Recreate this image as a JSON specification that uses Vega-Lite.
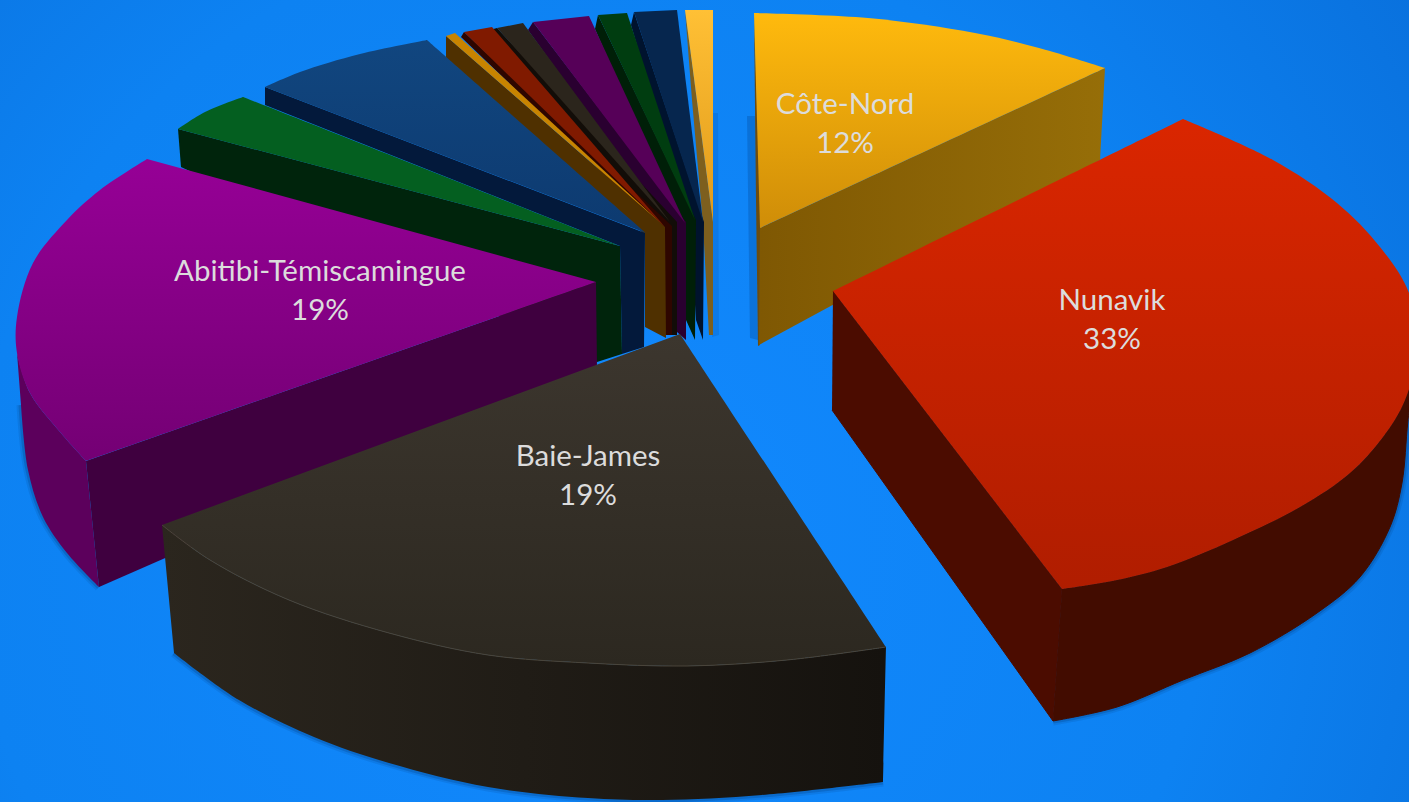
{
  "$schema": "https://vega.github.io/schema/vega-lite/v6.json",
  "width": 1409,
  "height": 802,
  "padding": 0,
  "autosize": {"type": "none"},
  "view": {"stroke": null, "fill": {"gradient": "radial", "x1": 0.42, "y1": 0.6, "r1": 0, "x2": 0.42, "y2": 0.6, "r2": 0.8, "stops": [{"offset": 0, "color": "#1289ff"}, {"offset": 0.55, "color": "#0d82f2"}, {"offset": 1, "color": "#086bd6"}]}},
  "datasets": {
    "labels": [
      {"slice": "Côte-Nord", "share": 0.12, "x": 845, "y": 105},
      {"slice": "Nunavik", "share": 0.33, "x": 1112, "y": 301},
      {"slice": "Baie-James", "share": 0.19, "x": 588, "y": 457},
      {"slice": "Abitibi-Témiscamingue", "share": 0.19, "x": 320, "y": 272}
    ],
    "outline": [
      {"face": "sliverShade", "seq": 1, "x": 712, "y": 113},
      {"face": "sliverShade", "seq": 2, "x": 718, "y": 113},
      {"face": "sliverShade", "seq": 3, "x": 719, "y": 335},
      {"face": "sliverShade", "seq": 4, "x": 712, "y": 337},
      {"face": "coteShade", "seq": 1, "x": 747, "y": 116},
      {"face": "coteShade", "seq": 2, "x": 756, "y": 116},
      {"face": "coteShade", "seq": 3, "x": 758, "y": 340},
      {"face": "coteShade", "seq": 4, "x": 750, "y": 338},
      {"face": "sliverWall", "seq": 1, "x": 685, "y": 10},
      {"face": "sliverWall", "seq": 2, "x": 713, "y": 222},
      {"face": "sliverWall", "seq": 3, "x": 713, "y": 335},
      {"face": "sliverWall", "seq": 4, "x": 709, "y": 335},
      {"face": "sliverWall", "seq": 5, "x": 703, "y": 225},
      {"face": "sliverWall", "seq": 6, "x": 692, "y": 100},
      {"face": "sliverTop", "seq": 1, "x": 685, "y": 10},
      {"face": "sliverTop", "seq": 2, "x": 713, "y": 10},
      {"face": "sliverTop", "seq": 3, "x": 713, "y": 222},
      {"face": "navyWall", "seq": 1, "x": 634, "y": 12},
      {"face": "navyWall", "seq": 2, "x": 631, "y": 25},
      {"face": "navyWall", "seq": 3, "x": 690, "y": 226},
      {"face": "navyWall", "seq": 4, "x": 696, "y": 320},
      {"face": "navyWall", "seq": 5, "x": 703, "y": 340},
      {"face": "navyWall", "seq": 6, "x": 704, "y": 222},
      {"face": "navyTop", "seq": 1, "x": 634, "y": 12},
      {"face": "navyTop", "seq": 2, "x": 677, "y": 10},
      {"face": "navyTop", "seq": 3, "x": 703, "y": 222},
      {"face": "forestWall", "seq": 1, "x": 598, "y": 15},
      {"face": "forestWall", "seq": 2, "x": 595, "y": 29},
      {"face": "forestWall", "seq": 3, "x": 680, "y": 226},
      {"face": "forestWall", "seq": 4, "x": 686, "y": 320},
      {"face": "forestWall", "seq": 5, "x": 695, "y": 340},
      {"face": "forestWall", "seq": 6, "x": 696, "y": 220},
      {"face": "forestTop", "seq": 1, "x": 598, "y": 15},
      {"face": "forestTop", "seq": 2, "x": 627, "y": 13},
      {"face": "forestTop", "seq": 3, "x": 695, "y": 220},
      {"face": "plumWall", "seq": 1, "x": 533, "y": 22},
      {"face": "plumWall", "seq": 2, "x": 528, "y": 30},
      {"face": "plumWall", "seq": 3, "x": 670, "y": 228},
      {"face": "plumWall", "seq": 4, "x": 677, "y": 332},
      {"face": "plumWall", "seq": 5, "x": 686, "y": 340},
      {"face": "plumWall", "seq": 6, "x": 686, "y": 222},
      {"face": "plumTop", "seq": 1, "x": 533, "y": 22},
      {"face": "plumTop", "seq": 2, "x": 589, "y": 16},
      {"face": "plumTop", "seq": 3, "x": 685, "y": 223},
      {"face": "coalWall", "seq": 1, "x": 497, "y": 28},
      {"face": "coalWall", "seq": 2, "x": 490, "y": 30},
      {"face": "coalWall", "seq": 3, "x": 664, "y": 232},
      {"face": "coalWall", "seq": 4, "x": 672, "y": 335},
      {"face": "coalWall", "seq": 5, "x": 677, "y": 335},
      {"face": "coalWall", "seq": 6, "x": 677, "y": 222},
      {"face": "coalTop", "seq": 1, "x": 497, "y": 28},
      {"face": "coalTop", "seq": 2, "x": 523, "y": 23},
      {"face": "coalTop", "seq": 3, "x": 670, "y": 222},
      {"face": "brickWall", "seq": 1, "x": 464, "y": 32},
      {"face": "brickWall", "seq": 2, "x": 461, "y": 37},
      {"face": "brickWall", "seq": 3, "x": 664, "y": 232},
      {"face": "brickWall", "seq": 4, "x": 664, "y": 335},
      {"face": "brickWall", "seq": 5, "x": 672, "y": 335},
      {"face": "brickWall", "seq": 6, "x": 672, "y": 226},
      {"face": "brickTop", "seq": 1, "x": 464, "y": 32},
      {"face": "brickTop", "seq": 2, "x": 492, "y": 27},
      {"face": "brickTop", "seq": 3, "x": 665, "y": 227},
      {"face": "amberWall", "seq": 1, "x": 446, "y": 36},
      {"face": "amberWall", "seq": 2, "x": 446, "y": 59},
      {"face": "amberWall", "seq": 3, "x": 645, "y": 235},
      {"face": "amberWall", "seq": 4, "x": 645, "y": 327},
      {"face": "amberWall", "seq": 5, "x": 666, "y": 338},
      {"face": "amberWall", "seq": 6, "x": 665, "y": 227},
      {"face": "amberTop", "seq": 1, "x": 446, "y": 36},
      {"face": "amberTop", "seq": 2, "x": 455, "y": 33},
      {"face": "amberTop", "seq": 3, "x": 664, "y": 226},
      {"face": "blueWall", "seq": 1, "x": 265, "y": 87},
      {"face": "blueWall", "seq": 2, "x": 265, "y": 105},
      {"face": "blueWall", "seq": 3, "x": 620, "y": 246},
      {"face": "blueWall", "seq": 4, "x": 622, "y": 354},
      {"face": "blueWall", "seq": 5, "x": 644, "y": 347},
      {"face": "blueWall", "seq": 6, "x": 645, "y": 233},
      {"face": "blueTop", "seq": 1, "x": 265, "y": 87},
      {"face": "blueTop", "seq": 2, "x": 300, "y": 72},
      {"face": "blueTop", "seq": 3, "x": 360, "y": 54},
      {"face": "blueTop", "seq": 4, "x": 427, "y": 40},
      {"face": "blueTop", "seq": 4.5, "x": 427, "y": 40},
      {"face": "blueTop", "seq": 5, "x": 646, "y": 233},
      {"face": "greenWall", "seq": 1, "x": 178, "y": 129},
      {"face": "greenWall", "seq": 2, "x": 181, "y": 167},
      {"face": "greenWall", "seq": 3, "x": 597, "y": 362},
      {"face": "greenWall", "seq": 4, "x": 622, "y": 354},
      {"face": "greenWall", "seq": 5, "x": 620, "y": 246},
      {"face": "greenTop", "seq": 1, "x": 178, "y": 129},
      {"face": "greenTop", "seq": 2, "x": 205, "y": 112},
      {"face": "greenTop", "seq": 3, "x": 243, "y": 97},
      {"face": "greenTop", "seq": 3.5, "x": 243, "y": 97},
      {"face": "greenTop", "seq": 4, "x": 620, "y": 246},
      {"face": "purpleRim", "seq": 1, "x": 17, "y": 353},
      {"face": "purpleRim", "seq": 2, "x": 30, "y": 393},
      {"face": "purpleRim", "seq": 3, "x": 60, "y": 432},
      {"face": "purpleRim", "seq": 4, "x": 86, "y": 461},
      {"face": "purpleRim", "seq": 4.5, "x": 86, "y": 461},
      {"face": "purpleRim", "seq": 5, "x": 99, "y": 587},
      {"face": "purpleRim", "seq": 5.5, "x": 99, "y": 587},
      {"face": "purpleRim", "seq": 6, "x": 67, "y": 553},
      {"face": "purpleRim", "seq": 7, "x": 43, "y": 517},
      {"face": "purpleRim", "seq": 8, "x": 28, "y": 470},
      {"face": "purpleRim", "seq": 9, "x": 21, "y": 405},
      {"face": "purpleWall", "seq": 1, "x": 86, "y": 461},
      {"face": "purpleWall", "seq": 2, "x": 596, "y": 282},
      {"face": "purpleWall", "seq": 3, "x": 597, "y": 369},
      {"face": "purpleWall", "seq": 4, "x": 99, "y": 587},
      {"face": "purpleTop", "seq": 1, "x": 147, "y": 159},
      {"face": "purpleTop", "seq": 2, "x": 100, "y": 190},
      {"face": "purpleTop", "seq": 3, "x": 67, "y": 220},
      {"face": "purpleTop", "seq": 4, "x": 33, "y": 263},
      {"face": "purpleTop", "seq": 5, "x": 17, "y": 317},
      {"face": "purpleTop", "seq": 6, "x": 17, "y": 353},
      {"face": "purpleTop", "seq": 7, "x": 30, "y": 393},
      {"face": "purpleTop", "seq": 8, "x": 60, "y": 432},
      {"face": "purpleTop", "seq": 9, "x": 86, "y": 461},
      {"face": "purpleTop", "seq": 9.5, "x": 86, "y": 461},
      {"face": "purpleTop", "seq": 10, "x": 596, "y": 282},
      {"face": "jamesRim", "seq": 1, "x": 162, "y": 525},
      {"face": "jamesRim", "seq": 2, "x": 210, "y": 560},
      {"face": "jamesRim", "seq": 3, "x": 289, "y": 600},
      {"face": "jamesRim", "seq": 4, "x": 389, "y": 633},
      {"face": "jamesRim", "seq": 5, "x": 488, "y": 655},
      {"face": "jamesRim", "seq": 6, "x": 588, "y": 663},
      {"face": "jamesRim", "seq": 7, "x": 687, "y": 666},
      {"face": "jamesRim", "seq": 8, "x": 787, "y": 660},
      {"face": "jamesRim", "seq": 9, "x": 886, "y": 647},
      {"face": "jamesRim", "seq": 9.5, "x": 886, "y": 647},
      {"face": "jamesRim", "seq": 10, "x": 883, "y": 782},
      {"face": "jamesRim", "seq": 10.5, "x": 883, "y": 782},
      {"face": "jamesRim", "seq": 11, "x": 762, "y": 795},
      {"face": "jamesRim", "seq": 12, "x": 662, "y": 800},
      {"face": "jamesRim", "seq": 13, "x": 588, "y": 798},
      {"face": "jamesRim", "seq": 14, "x": 488, "y": 787},
      {"face": "jamesRim", "seq": 15, "x": 389, "y": 763},
      {"face": "jamesRim", "seq": 16, "x": 314, "y": 737},
      {"face": "jamesRim", "seq": 17, "x": 239, "y": 700},
      {"face": "jamesRim", "seq": 18, "x": 174, "y": 653},
      {"face": "jamesTop", "seq": 1, "x": 680, "y": 334},
      {"face": "jamesTop", "seq": 2, "x": 886, "y": 647},
      {"face": "jamesTop", "seq": 2.5, "x": 886, "y": 647},
      {"face": "jamesTop", "seq": 3, "x": 787, "y": 660},
      {"face": "jamesTop", "seq": 4, "x": 687, "y": 666},
      {"face": "jamesTop", "seq": 5, "x": 588, "y": 663},
      {"face": "jamesTop", "seq": 6, "x": 488, "y": 655},
      {"face": "jamesTop", "seq": 7, "x": 389, "y": 633},
      {"face": "jamesTop", "seq": 8, "x": 289, "y": 600},
      {"face": "jamesTop", "seq": 9, "x": 210, "y": 560},
      {"face": "jamesTop", "seq": 10, "x": 162, "y": 525},
      {"face": "coteEdge", "seq": 1, "x": 754, "y": 13},
      {"face": "coteEdge", "seq": 2, "x": 761, "y": 228},
      {"face": "coteEdge", "seq": 3, "x": 760, "y": 345},
      {"face": "coteEdge", "seq": 4, "x": 758, "y": 346},
      {"face": "coteEdge", "seq": 5, "x": 756, "y": 200},
      {"face": "coteWall", "seq": 1, "x": 760, "y": 228},
      {"face": "coteWall", "seq": 2, "x": 1105, "y": 68},
      {"face": "coteWall", "seq": 3, "x": 1100, "y": 160},
      {"face": "coteWall", "seq": 4, "x": 759, "y": 345},
      {"face": "coteTop", "seq": 1, "x": 754, "y": 13},
      {"face": "coteTop", "seq": 2, "x": 868, "y": 18},
      {"face": "coteTop", "seq": 3, "x": 975, "y": 33},
      {"face": "coteTop", "seq": 4, "x": 1039, "y": 48},
      {"face": "coteTop", "seq": 5, "x": 1105, "y": 68},
      {"face": "coteTop", "seq": 5.5, "x": 1105, "y": 68},
      {"face": "coteTop", "seq": 6, "x": 760, "y": 228},
      {"face": "nunavikWall", "seq": 1, "x": 833, "y": 291},
      {"face": "nunavikWall", "seq": 2, "x": 1062, "y": 589},
      {"face": "nunavikWall", "seq": 3, "x": 1053, "y": 721},
      {"face": "nunavikWall", "seq": 4, "x": 832, "y": 410},
      {"face": "nunavikRim", "seq": 1, "x": 1062, "y": 589},
      {"face": "nunavikRim", "seq": 2, "x": 1117, "y": 580},
      {"face": "nunavikRim", "seq": 3, "x": 1167, "y": 567},
      {"face": "nunavikRim", "seq": 4, "x": 1233, "y": 540},
      {"face": "nunavikRim", "seq": 5, "x": 1300, "y": 507},
      {"face": "nunavikRim", "seq": 6, "x": 1350, "y": 473},
      {"face": "nunavikRim", "seq": 7, "x": 1383, "y": 437},
      {"face": "nunavikRim", "seq": 8, "x": 1405, "y": 400},
      {"face": "nunavikRim", "seq": 9, "x": 1417, "y": 350},
      {"face": "nunavikRim", "seq": 9.5, "x": 1417, "y": 350},
      {"face": "nunavikRim", "seq": 10, "x": 1408, "y": 420},
      {"face": "nunavikRim", "seq": 11, "x": 1402, "y": 483},
      {"face": "nunavikRim", "seq": 12, "x": 1390, "y": 527},
      {"face": "nunavikRim", "seq": 13, "x": 1360, "y": 577},
      {"face": "nunavikRim", "seq": 14, "x": 1317, "y": 613},
      {"face": "nunavikRim", "seq": 15, "x": 1250, "y": 653},
      {"face": "nunavikRim", "seq": 16, "x": 1183, "y": 680},
      {"face": "nunavikRim", "seq": 17, "x": 1117, "y": 707},
      {"face": "nunavikRim", "seq": 18, "x": 1053, "y": 721},
      {"face": "nunavikTop", "seq": 1, "x": 833, "y": 291},
      {"face": "nunavikTop", "seq": 2, "x": 1183, "y": 119},
      {"face": "nunavikTop", "seq": 2.5, "x": 1183, "y": 119},
      {"face": "nunavikTop", "seq": 3, "x": 1273, "y": 160},
      {"face": "nunavikTop", "seq": 4, "x": 1337, "y": 203},
      {"face": "nunavikTop", "seq": 5, "x": 1380, "y": 247},
      {"face": "nunavikTop", "seq": 6, "x": 1409, "y": 293},
      {"face": "nunavikTop", "seq": 7, "x": 1417, "y": 350},
      {"face": "nunavikTop", "seq": 8, "x": 1405, "y": 400},
      {"face": "nunavikTop", "seq": 9, "x": 1383, "y": 437},
      {"face": "nunavikTop", "seq": 10, "x": 1350, "y": 473},
      {"face": "nunavikTop", "seq": 11, "x": 1300, "y": 507},
      {"face": "nunavikTop", "seq": 12, "x": 1233, "y": 540},
      {"face": "nunavikTop", "seq": 13, "x": 1167, "y": 567},
      {"face": "nunavikTop", "seq": 14, "x": 1117, "y": 580},
      {"face": "nunavikTop", "seq": 15, "x": 1062, "y": 589}
    ]
  },
  "data": {"name": "outline"},
  "encoding": {
    "x": {"field": "x", "type": "quantitative", "scale": {"domain": [0, 1409], "nice": false, "zero": false}, "axis": null},
    "y": {"field": "y", "type": "quantitative", "scale": {"domain": [802, 0], "nice": false, "zero": false}, "axis": null},
    "order": {"field": "seq", "type": "quantitative"}
  },
  "layer": [
    {"transform": [{"filter": "datum.face === 'purpleRim' && datum.seq >= 5"}], "mark": {"type": "line", "interpolate": "catmull-rom", "stroke": "#00306e", "strokeWidth": 9, "opacity": 0.12}},
    {"transform": [{"filter": "datum.face === 'purpleRim' && datum.seq >= 5"}], "mark": {"type": "line", "interpolate": "catmull-rom", "stroke": "#00306e", "strokeWidth": 5, "opacity": 0.22}},
    {"transform": [{"filter": "datum.face === 'jamesRim' && datum.seq >= 10"}], "mark": {"type": "line", "interpolate": "catmull-rom", "stroke": "#00306e", "strokeWidth": 9, "opacity": 0.12}},
    {"transform": [{"filter": "datum.face === 'jamesRim' && datum.seq >= 10"}], "mark": {"type": "line", "interpolate": "catmull-rom", "stroke": "#00306e", "strokeWidth": 5, "opacity": 0.22}},
    {"transform": [{"filter": "datum.face === 'nunavikRim' && datum.seq >= 10"}], "mark": {"type": "line", "interpolate": "catmull-rom", "stroke": "#00306e", "strokeWidth": 9, "opacity": 0.12, "clip": true}},
    {"transform": [{"filter": "datum.face === 'nunavikRim' && datum.seq >= 10"}], "mark": {"type": "line", "interpolate": "catmull-rom", "stroke": "#00306e", "strokeWidth": 5, "opacity": 0.22, "clip": true}},
    {"transform": [{"filter": "datum.face === 'sliverShade'"}], "mark": {"type": "line", "fill": "#00408c", "fillOpacity": 0.16, "strokeWidth": 0}},
    {"transform": [{"filter": "datum.face === 'coteShade'"}], "mark": {"type": "line", "fill": "#00408c", "fillOpacity": 0.28, "strokeWidth": 0}},
    {"transform": [{"filter": "datum.face === 'sliverWall'"}], "mark": {"type": "line", "fill": "#7d5f1e", "strokeWidth": 0}},
    {"transform": [{"filter": "datum.face === 'sliverTop'"}], "mark": {"type": "line", "strokeWidth": 0, "fill": {"gradient": "linear", "x1": 0, "y1": 0, "x2": 0, "y2": 1, "stops": [{"offset": 0, "color": "#ffc035"}, {"offset": 1, "color": "#e09a1a"}]}}},
    {"transform": [{"filter": "datum.face === 'navyWall'"}], "mark": {"type": "line", "fill": "#00132e", "strokeWidth": 0}},
    {"transform": [{"filter": "datum.face === 'navyTop'"}], "mark": {"type": "line", "fill": "#06264e", "strokeWidth": 0}},
    {"transform": [{"filter": "datum.face === 'forestWall'"}], "mark": {"type": "line", "fill": "#001f08", "strokeWidth": 0}},
    {"transform": [{"filter": "datum.face === 'forestTop'"}], "mark": {"type": "line", "fill": "#003d10", "strokeWidth": 0}},
    {"transform": [{"filter": "datum.face === 'plumWall'"}], "mark": {"type": "line", "fill": "#2a0030", "strokeWidth": 0}},
    {"transform": [{"filter": "datum.face === 'plumTop'"}], "mark": {"type": "line", "fill": "#560058", "strokeWidth": 0}},
    {"transform": [{"filter": "datum.face === 'coalWall'"}], "mark": {"type": "line", "fill": "#120d08", "strokeWidth": 0}},
    {"transform": [{"filter": "datum.face === 'coalTop'"}], "mark": {"type": "line", "fill": "#2b251c", "strokeWidth": 0}},
    {"transform": [{"filter": "datum.face === 'brickWall'"}], "mark": {"type": "line", "fill": "#2e0600", "strokeWidth": 0}},
    {"transform": [{"filter": "datum.face === 'brickTop'"}], "mark": {"type": "line", "fill": "#801a00", "strokeWidth": 0}},
    {"transform": [{"filter": "datum.face === 'amberWall'"}], "mark": {"type": "line", "fill": "#4f3000", "strokeWidth": 0}},
    {"transform": [{"filter": "datum.face === 'amberTop'"}], "mark": {"type": "line", "fill": "#c88400", "strokeWidth": 0}},
    {"transform": [{"filter": "datum.face === 'blueWall'"}], "mark": {"type": "line", "fill": "#03193b", "strokeWidth": 0}},
    {"transform": [{"filter": "datum.face === 'blueTop'"}], "mark": {"type": "line", "interpolate": "catmull-rom", "strokeWidth": 0, "fill": {"gradient": "linear", "x1": 0, "y1": 0, "x2": 0, "y2": 1, "stops": [{"offset": 0, "color": "#11467f"}, {"offset": 1, "color": "#0d3a70"}]}}},
    {"transform": [{"filter": "datum.face === 'greenWall'"}], "mark": {"type": "line", "fill": "#00240c", "strokeWidth": 0}},
    {"transform": [{"filter": "datum.face === 'greenTop'"}], "mark": {"type": "line", "interpolate": "catmull-rom", "fill": "#045f20", "strokeWidth": 0}},
    {"transform": [{"filter": "datum.face === 'purpleRim'"}], "mark": {"type": "line", "interpolate": "catmull-rom", "fill": "#5c005c", "strokeWidth": 0}},
    {"transform": [{"filter": "datum.face === 'purpleWall'"}], "mark": {"type": "line", "fill": "#3f003f", "strokeWidth": 0}},
    {"transform": [{"filter": "datum.face === 'purpleTop'"}], "mark": {"type": "line", "interpolate": "catmull-rom", "strokeWidth": 0, "fill": {"gradient": "linear", "x1": 0, "y1": 0, "x2": 0, "y2": 1, "stops": [{"offset": 0, "color": "#960096"}, {"offset": 1, "color": "#740074"}]}}},
    {"transform": [{"filter": "datum.face === 'jamesRim'"}], "mark": {"type": "line", "interpolate": "catmull-rom", "strokeWidth": 0, "fill": {"gradient": "linear", "x1": 0, "y1": 0, "x2": 1, "y2": 0, "stops": [{"offset": 0, "color": "#2b261e"}, {"offset": 1, "color": "#15120e"}]}}},
    {"transform": [{"filter": "datum.face === 'jamesTop'"}], "mark": {"type": "line", "interpolate": "catmull-rom", "strokeWidth": 0, "fill": {"gradient": "linear", "x1": 0, "y1": 0, "x2": 0, "y2": 1, "stops": [{"offset": 0, "color": "#3c362e"}, {"offset": 1, "color": "#2c2820"}]}}},
    {"transform": [{"filter": "datum.face === 'jamesRim' && datum.seq <= 9"}], "mark": {"type": "line", "interpolate": "catmull-rom", "stroke": "#4b453a", "strokeWidth": 1}},
    {"transform": [{"filter": "datum.face === 'coteEdge'"}], "mark": {"type": "line", "fill": "#6b4c10", "strokeWidth": 0}},
    {"transform": [{"filter": "datum.face === 'coteWall'"}], "mark": {"type": "line", "strokeWidth": 0, "fill": {"gradient": "linear", "x1": 0, "y1": 0, "x2": 1, "y2": 0, "stops": [{"offset": 0, "color": "#7f5803"}, {"offset": 1, "color": "#966e08"}]}}},
    {"transform": [{"filter": "datum.face === 'coteTop'"}], "mark": {"type": "line", "interpolate": "catmull-rom", "strokeWidth": 0, "fill": {"gradient": "linear", "x1": 0, "y1": 0, "x2": 0, "y2": 1, "stops": [{"offset": 0, "color": "#ffba0d"}, {"offset": 1, "color": "#cf8d08"}]}}},
    {"transform": [{"filter": "datum.face === 'nunavikWall'"}], "mark": {"type": "line", "fill": "#4b0c00", "stroke": "#4b0c00", "strokeWidth": 1}},
    {"transform": [{"filter": "datum.face === 'nunavikRim'"}], "mark": {"type": "line", "interpolate": "catmull-rom", "fill": "#420c00", "stroke": "#420c00", "strokeWidth": 1, "clip": true}},
    {"transform": [{"filter": "datum.face === 'nunavikTop'"}], "mark": {"type": "line", "interpolate": "catmull-rom", "strokeWidth": 0, "clip": true, "fill": {"gradient": "linear", "x1": 0, "y1": 0, "x2": 0, "y2": 1, "stops": [{"offset": 0, "color": "#da2600"}, {"offset": 1, "color": "#b01d00"}]}}},
    {
      "data": {"name": "labels"},
      "mark": {"type": "text", "font": "Lato", "fontSize": 29.5, "fill": "#dcdcdc", "baseline": "middle", "align": "center"},
      "encoding": {"text": {"field": "slice", "type": "nominal"}, "order": null}
    },
    {
      "data": {"name": "labels"},
      "mark": {"type": "text", "font": "Lato", "fontSize": 29.5, "fill": "#dcdcdc", "baseline": "middle", "align": "center", "dy": 39},
      "encoding": {"text": {"field": "share", "type": "quantitative", "format": ".0%"}, "order": null}
    }
  ]
}
